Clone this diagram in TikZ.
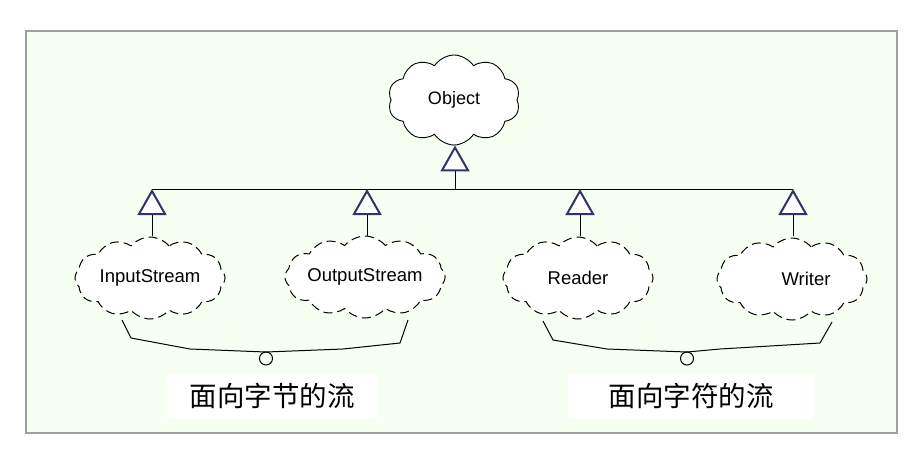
\documentclass[tikz,border=0pt]{standalone}
\usepackage{fontspec}
\setmainfont{Liberation Sans}
\newfontfamily\cjk{Noto Sans CJK SC}
\usetikzlibrary{shapes.symbols,arrows.meta}
\definecolor{bgc}{HTML}{F6FFF2}
\definecolor{framec}{HTML}{A0A0A0}
\definecolor{tipc}{HTML}{33336A}
\tikzset{
  solidcloud/.style={cloud, cloud puffs=10, cloud puff arc=115, cloud ignores aspect,
    draw=black, line width=0.9pt, fill=white, minimum width=132pt, minimum height=90pt,
    inner sep=0pt, font=\fontsize{18}{20}\selectfont},
  dashcloud/.style={cloud, cloud puffs=12, cloud puff arc=100, cloud ignores aspect,
    draw=black, line width=1pt, dash pattern=on 9pt off 5pt, fill=white,
    minimum width=150pt, minimum height=82pt, inner sep=0pt,
    font=\fontsize{18.5}{20}\selectfont},
  inh/.style={draw=black, line width=1pt,
    -{Triangle[width=29pt,length=26pt,fill=white,color=tipc,line width=2pt]}},
  barline/.style={draw=black, line width=1pt},
  bracel/.style={draw=black, line width=1pt, line join=round},
  labelbox/.style={fill=white, draw=none, inner sep=0pt, font=\cjk\fontsize{27.5}{30}\selectfont}
}
\begin{document}
\begin{tikzpicture}[x=1pt,y=-1pt]
\useasboundingbox (0,0) rectangle (917,448);
\fill[white] (0,0) rectangle (917,448);
\draw[framec, fill=bgc, line width=2pt] (26,31) rectangle (897,433);

% nodes
\node[solidcloud] (obj) at (454,100) {Object};
\node[dashcloud] (in) at (150,278) {InputStream};
\node[dashcloud] (out) at (365,277) {OutputStream};
\node[dashcloud] (rd) at (578,278) {Reader};
\node[dashcloud] (wr) at (792,279) {\hspace*{28pt}Writer};

% hierarchy
\coordinate (bar) at (455,189);
\coordinate (barL) at (152,189);
\coordinate (barR) at (793,189);
\draw[barline] (barL) -- (barR);
\draw[inh] (bar) -- (bar |- obj.south);
\draw[inh] (152,236) -- (barL);
\draw[inh] (367,236) -- (367,189);
\draw[inh] (580,236) -- (580,189);
\draw[inh] (793,236) -- (barR);

% braces
\coordinate (la) at (122,320);
\coordinate (lb) at (408,320);
\coordinate (lk) at (266,352);
\draw[bracel] (la) -- (131,338) -- (190,349) -- (lk) -- (343,349) -- (400,343) -- (lb);
\draw[bracel] (266,358.5) circle[radius=6.5];
\coordinate (ra) at (543,321);
\coordinate (rb) at (832,322);
\coordinate (rk) at (687,352);
\draw[bracel] (ra) -- (553,340) -- (607,349) -- (rk) -- (720,349) -- (820,343) -- (rb);
\draw[bracel] (687,358.5) circle[radius=6.5];

% labels
\node[labelbox, minimum width=210pt, minimum height=45pt] (lt) at (272,396) {面向字节的流};
\node[labelbox, minimum width=246pt, minimum height=45pt] (rt) at (691,396) {面向字符的流};
\end{tikzpicture}
\end{document}
